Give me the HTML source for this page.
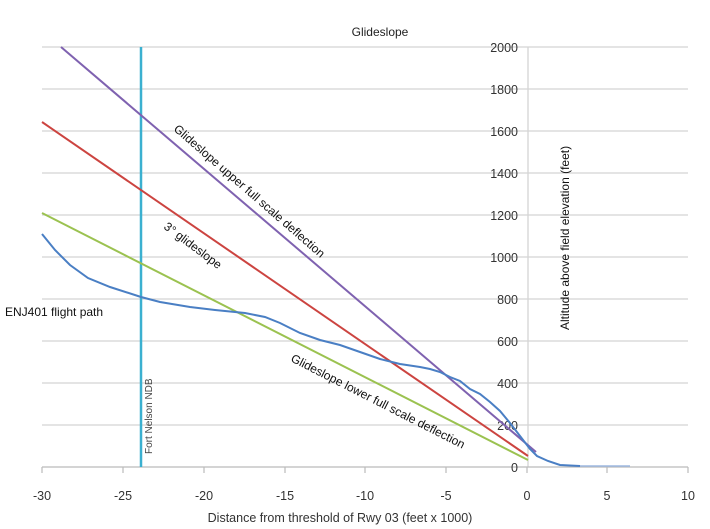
<!DOCTYPE html>
<html><head><style>body{margin:0;background:#fff}svg{display:block}</style></head>
<body>
<svg width="710" height="529" viewBox="0 0 710 529" xmlns="http://www.w3.org/2000/svg" font-family="Liberation Sans, sans-serif">
<rect width="710" height="529" fill="#fff"/>
<text x="380" y="36" font-size="12" text-anchor="middle" fill="#222">Glideslope</text>
<g stroke="#d4d4d4" stroke-width="1.3">
<line x1="42" y1="47" x2="688" y2="47"/><line x1="42" y1="89" x2="688" y2="89"/>
<line x1="42" y1="131" x2="688" y2="131"/><line x1="42" y1="173" x2="688" y2="173"/>
<line x1="42" y1="215" x2="688" y2="215"/><line x1="42" y1="257" x2="688" y2="257"/>
<line x1="42" y1="299" x2="688" y2="299"/><line x1="42" y1="341" x2="688" y2="341"/>
<line x1="42" y1="383" x2="688" y2="383"/><line x1="42" y1="425" x2="688" y2="425"/>
<line x1="528" y1="47" x2="528" y2="467"/>
</g>
<g stroke="#bbb" stroke-width="1.2">
<line x1="42" y1="467" x2="688" y2="467"/>
<line x1="42" y1="467" x2="42" y2="473"/><line x1="123" y1="467" x2="123" y2="473"/>
<line x1="204" y1="467" x2="204" y2="473"/><line x1="285" y1="467" x2="285" y2="473"/>
<line x1="365" y1="467" x2="365" y2="473"/><line x1="446" y1="467" x2="446" y2="473"/>
<line x1="527" y1="467" x2="527" y2="473"/><line x1="607" y1="467" x2="607" y2="473"/>
<line x1="688" y1="467" x2="688" y2="473"/>
</g>
<g font-size="12.5" fill="#333" text-anchor="end">
<text x="518" y="52">2000</text><text x="518" y="94">1800</text><text x="518" y="136">1600</text>
<text x="518" y="178">1400</text><text x="518" y="220">1200</text><text x="518" y="262">1000</text>
<text x="518" y="304">800</text><text x="518" y="346">600</text><text x="518" y="388">400</text>
<text x="518" y="430">200</text><text x="518" y="472">0</text>
</g>
<g font-size="12.5" fill="#333" text-anchor="middle">
<text x="42" y="500">-30</text><text x="123" y="500">-25</text><text x="204" y="500">-20</text>
<text x="285" y="500">-15</text><text x="365" y="500">-10</text><text x="446" y="500">-5</text>
<text x="527" y="500">0</text><text x="607" y="500">5</text><text x="688" y="500">10</text>
<text x="340" y="522">Distance from threshold of Rwy 03 (feet x 1000)</text>
</g>
<line x1="141" y1="47" x2="141" y2="467" stroke="#3bb0d0" stroke-width="2.5"/>
<line x1="61" y1="47" x2="536" y2="452" stroke="#7f62b0" stroke-width="2"/>
<line x1="42" y1="122" x2="528" y2="456" stroke="#cc4440" stroke-width="2"/>
<line x1="42" y1="213" x2="528" y2="460" stroke="#9bc250" stroke-width="2"/>
<polyline fill="none" stroke="#4a7fc4" stroke-width="2" points="42,234 55,250 70,265 88,278 110,287 141,297 160,302 190,307 215,310 245,313 265,317 280,323 300,333 320,340 340,345 360,352 380,359 400,364 420,367 430,369 440,372 450,377 460,381 470,389 480,394 490,402 500,411 510,423 520,436 530,449 537,456 548,461 560,465 580,466"/>
<polyline fill="none" stroke="#9db8e0" stroke-width="1.5" points="580,466 630,466"/>
<g font-size="12" fill="#111">
<text transform="translate(173,130) rotate(41)">Glideslope upper full scale deflection</text>
<text transform="translate(163,228) rotate(37)">3° glideslope</text>
<text transform="translate(290,361) rotate(27)">Glideslope lower full scale deflection</text>
<text x="5" y="316">ENJ401 flight path</text>
<text transform="translate(569,330) rotate(-90)">Altitude above field elevation (feet)</text>
</g>
<text transform="translate(152,454) rotate(-90)" font-size="10" fill="#444">Fort Nelson NDB</text>
</svg>
</body></html>
